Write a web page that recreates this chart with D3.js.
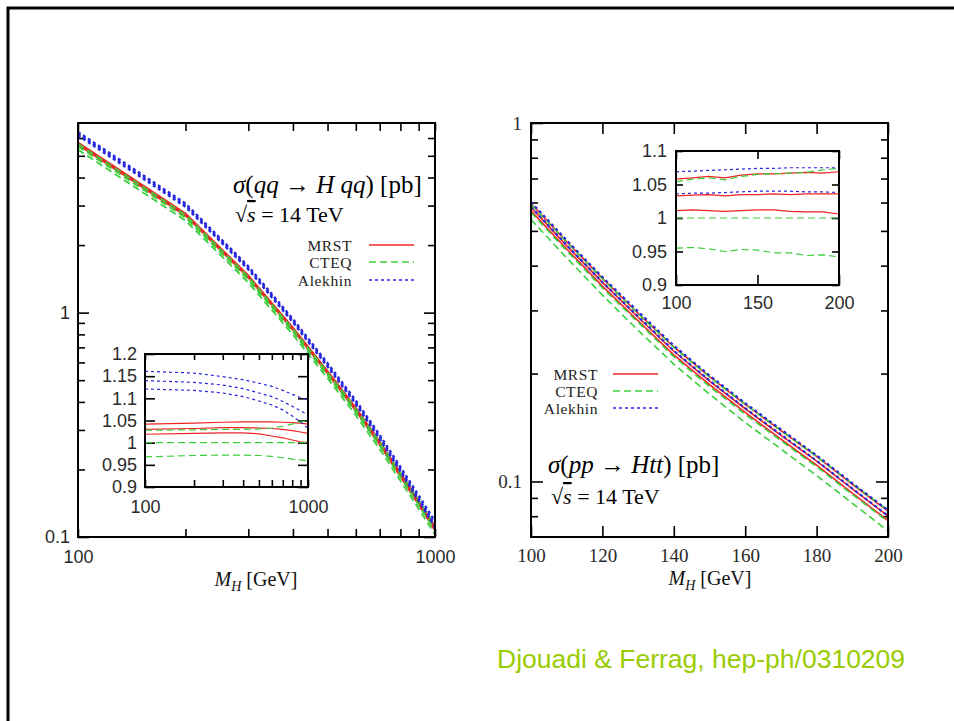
<!DOCTYPE html>
<html>
<head>
<meta charset="utf-8">
<script src="https://cdn.jsdelivr.net/npm/d3@7"></script>
<style>
  html, body { margin: 0; padding: 0; background: #fff; }
  svg { display: block; }
  .tick line { stroke: #000; stroke-width: 1.6; }
</style>
</head>
<body>
<svg id="fig" width="954" height="721"></svg>
<script>
// ---- Left panel: sigma(qq -> Hqq), 14 TeV ----
const massQQ = [100, 200, 300, 400, 500, 600, 700, 800, 900, 1000];
const sigmaQQ = [5.5, 2.65, 1.40, 0.82, 0.525, 0.36, 0.255, 0.185, 0.139, 0.107]; // CTEQ central, pb
// ratios to the CTEQ central value (upper / central / lower member of each set)
const qqMrstHi    = [1.042, 1.044, 1.046, 1.047, 1.047, 1.047, 1.046, 1.045, 1.044, 1.042];
const qqMrstMid   = [1.030, 1.032, 1.034, 1.034, 1.033, 1.032, 1.030, 1.027, 1.024, 1.021];
const qqMrstLo    = [1.019, 1.021, 1.022, 1.022, 1.020, 1.015, 1.011, 1.006, 1.002, 1.000];
const qqCteqHi    = [1.028, 1.029, 1.030, 1.030, 1.031, 1.033, 1.037, 1.042, 1.047, 1.049];
const qqCteqMid   = [1, 1, 1, 1, 1, 1, 1, 1, 1, 1];
const qqCteqLo    = [0.968, 0.971, 0.972, 0.972, 0.971, 0.969, 0.966, 0.963, 0.961, 0.959];
const qqAlekhinHi = [1.161, 1.157, 1.149, 1.142, 1.134, 1.127, 1.118, 1.109, 1.102, 1.096];
const qqAlekhinMid= [1.140, 1.136, 1.130, 1.122, 1.112, 1.104, 1.093, 1.082, 1.072, 1.063];
const qqAlekhinLo = [1.121, 1.118, 1.112, 1.104, 1.094, 1.085, 1.074, 1.060, 1.047, 1.032];

// ---- Right panel: sigma(pp -> Htt), 14 TeV ----
const massTT = [100, 110, 120, 130, 140, 150, 160, 170, 180, 190, 200];
const sigmaTT = [0.563, 0.440, 0.347, 0.278, 0.223, 0.184, 0.154, 0.130, 0.110, 0.0920, 0.0773];
const ttMrstHi    = [1.058, 1.060, 1.062, 1.060, 1.064, 1.066, 1.066, 1.067, 1.068, 1.067, 1.069];
const ttMrstMid   = [1.033, 1.034, 1.035, 1.033, 1.035, 1.035, 1.036, 1.035, 1.036, 1.036, 1.036];
const ttMrstLo    = [1.011, 1.012, 1.011, 1.010, 1.011, 1.012, 1.012, 1.010, 1.009, 1.009, 1.006];
const ttCteqHi    = [1.054, 1.058, 1.060, 1.057, 1.062, 1.065, 1.066, 1.067, 1.068, 1.072, 1.074];
const ttCteqMid   = [1, 1, 1, 1, 1, 1, 1, 1, 1, 1, 1];
const ttCteqLo    = [0.955, 0.956, 0.954, 0.950, 0.953, 0.952, 0.948, 0.948, 0.944, 0.945, 0.942];
const ttAlekhinHi = [1.069, 1.070, 1.071, 1.072, 1.073, 1.074, 1.074, 1.075, 1.075, 1.075, 1.075];
const ttAlekhinLo = [1.036, 1.037, 1.037, 1.038, 1.039, 1.040, 1.040, 1.040, 1.039, 1.039, 1.038];

// ---- tick values and labels ----
const qqMainYLabelTicks = [0.1, 1];
const qqMainYLabels = ["0.1", "1"];
const qqMainYMinor = [0.2, 0.3, 0.4, 0.5, 0.6, 0.7, 0.8, 0.9, 2, 3, 4, 5, 6];
const qqXTicks = [100, 200, 300, 400, 500, 600, 700, 800, 900, 1000];
const qqXLabels = {100: "100", 1000: "1000"};
const qqInsetYTicks = [0.9, 0.95, 1, 1.05, 1.1, 1.15, 1.2];
const qqInsetYLabels = ["0.9", "0.95", "1", "1.05", "1.1", "1.15", "1.2"];
const ttMainYMajor = [0.1];
const ttMainYMinor = [0.08, 0.09, 0.2, 0.3, 0.4, 0.5, 0.6, 0.7, 0.8, 0.9];
const ttMainYLabelTicks = [0.1, 1];
const ttMainYLabels = ["0.1", "1"];
const ttXTicks = [100, 120, 140, 160, 180, 200];
const ttInsetYTicks = [0.9, 0.95, 1, 1.05, 1.1];
const ttInsetYLabels = ["0.9", "0.95", "1", "1.05", "1.1"];
const ttInsetXTicks = [100, 150, 200];

const seriesNames = ["MRST", "CTEQ", "Alekhin"];
const credit = "Djouadi & Ferrag, hep-ph/0310209";

// ---- styling ----
const COL = { MRST: "#f02424", CTEQ: "#3ccf3c", Alekhin: "#2626dc" };
const DASH = { MRST: null, CTEQ: "7,4", Alekhin: "3,3" };
const SANS = "'Liberation Sans', Arial, sans-serif";
const SERIF = "'Liberation Serif', 'Times New Roman', serif";
const TICKCOL = "#2a2a2a";

const svg = d3.select("#fig");

// page frame
svg.append("rect").attr("x", 8).attr("y", 8).attr("width", 1000).attr("height", 800)
  .attr("fill", "none").attr("stroke", "#000").attr("stroke-width", 3);

const qqSets = [
  { name: "MRST", ratios: [qqMrstHi, qqMrstMid, qqMrstLo] },
  { name: "CTEQ", ratios: [qqCteqHi, qqCteqMid, qqCteqLo] },
  { name: "Alekhin", ratios: [qqAlekhinHi, qqAlekhinMid, qqAlekhinLo] }
];
const ttSets = [
  { name: "MRST", ratios: [ttMrstHi, ttMrstMid, ttMrstLo] },
  { name: "CTEQ", ratios: [ttCteqHi, ttCteqMid, ttCteqLo] },
  { name: "Alekhin", ratios: [ttAlekhinHi, ttAlekhinLo] }
];

let clipId = 0;
function frameBox(x, y, w, h) {
  const id = "clip" + (clipId++);
  svg.append("clipPath").attr("id", id).append("rect")
    .attr("x", x).attr("y", y).attr("width", w).attr("height", h);
  return id;
}

function axis(gen, scale, values, len, fmt, pad, fontFam, fontSize, transform) {
  const a = gen(scale).tickValues(values).tickSizeInner(-len).tickSizeOuter(0)
    .tickPadding(pad).tickFormat(fmt || (() => ""));
  const g = svg.append("g").attr("transform", transform).call(a);
  g.select(".domain").remove();
  g.selectAll("text").attr("font-family", fontFam).attr("font-size", fontSize).attr("fill", TICKCOL);
  return g;
}

function drawCurves(sets, xs, base, x, y, clip, width, normalise) {
  const g = svg.append("g").attr("clip-path", `url(#${clip})`);
  const line = d3.line().x(d => x(d[0])).y(d => y(d[1]));
  sets.forEach(s => {
    s.ratios.forEach(r => {
      const pts = xs.map((m, i) => [m, normalise ? r[i] : r[i] * base[i]]);
      g.append("path").attr("d", line(pts)).attr("fill", "none")
        .attr("stroke", COL[s.name]).attr("stroke-width", s.name === "Alekhin" && !normalise ? width + 0.5 : width)
        .attr("stroke-dasharray", DASH[s.name]);
    });
  });
}

function legend(xText, baselines, x0, x1) {
  seriesNames.forEach((n, i) => {
    svg.append("text").attr("x", xText).attr("y", baselines[i]).attr("text-anchor", "end")
      .attr("font-family", SERIF).attr("font-size", 15.5).attr("letter-spacing", 0.6)
      .attr("fill", "#222").text(n);
    svg.append("line").attr("x1", x0).attr("x2", x1)
      .attr("y1", baselines[i] - 6).attr("y2", baselines[i] - 6)
      .attr("stroke", COL[n]).attr("stroke-width", 1.6).attr("stroke-dasharray", DASH[n]);
  });
}

function processLabel(x, y, size, parts) {
  const t = svg.append("text").attr("x", x).attr("y", y).attr("font-family", SERIF)
    .attr("font-size", size).attr("fill", "#000");
  parts.forEach(p => {
    const ts = t.append("tspan").text(p[0]);
    if (p[1]) ts.attr("font-style", "italic");
    if (p[2]) ts.attr("text-decoration", "overline");
  });
  return t;
}

function massLabel(cx, y) {
  const t = svg.append("text").attr("x", cx).attr("y", y).attr("text-anchor", "middle")
    .attr("font-family", SERIF).attr("font-size", 20).attr("fill", "#111");
  t.append("tspan").attr("font-style", "italic").text("M");
  t.append("tspan").attr("font-style", "italic").attr("font-size", 14).attr("dy", 5).text("H");
  t.append("tspan").attr("dy", -5).text(" [GeV]");
}

// ================= LEFT PANEL =================
const L = { x0: 78, x1: 435, y0: 123, y1: 537 };
const xL = d3.scaleLog().domain([100, 1000]).range([L.x0, L.x1]);
const yL = d3.scaleLog().domain([0.1, 7]).range([L.y1, L.y0]);
const clipL = frameBox(L.x0, L.y0, L.x1 - L.x0, L.y1 - L.y0);

axis(d3.axisLeft, yL, qqMainYLabelTicks, 11, d => qqMainYLabels[qqMainYLabelTicks.indexOf(d)], 8, SANS, 18, `translate(${L.x0},0)`);
axis(d3.axisLeft, yL, qqMainYMinor, 7, null, 8, SANS, 18, `translate(${L.x0},0)`);
axis(d3.axisRight, yL, qqMainYLabelTicks, 11, null, 8, SANS, 18, `translate(${L.x1},0)`);
axis(d3.axisRight, yL, qqMainYMinor, 7, null, 8, SANS, 18, `translate(${L.x1},0)`);
axis(d3.axisBottom, xL, qqXTicks, 8, d => qqXLabels[d] || "", 13, SANS, 18, `translate(0,${L.y1})`);
axis(d3.axisTop, xL, qqXTicks, 8, null, 8, SANS, 18, `translate(0,${L.y0})`);

drawCurves(qqSets, massQQ, sigmaQQ, xL, yL, clipL, 1.8, false);
svg.append("rect").attr("x", L.x0).attr("y", L.y0).attr("width", L.x1 - L.x0).attr("height", L.y1 - L.y0)
  .attr("fill", "none").attr("stroke", "#000").attr("stroke-width", 2);

processLabel(233, 193, 25, [["σ", true], ["(", false], ["qq", true], [" → ", false], ["H", true], [" qq", true], [") [pb]", false]]);
processLabel(235, 222, 22, [["√", false], ["s", true, true], [" = 14 TeV", false]]);
legend(352, [251, 268, 286], 369, 414);
massLabel(256, 586);

// left inset
const LI = { x0: 145, x1: 308, y0: 354, y1: 487 };
const xLi = d3.scaleLog().domain([100, 1000]).range([LI.x0, LI.x1]);
const yLi = d3.scaleLinear().domain([0.9, 1.2]).range([LI.y1, LI.y0]);
svg.append("rect").attr("x", LI.x0).attr("y", LI.y0).attr("width", LI.x1 - LI.x0).attr("height", LI.y1 - LI.y0).attr("fill", "#fff");
const clipLI = frameBox(LI.x0, LI.y0, LI.x1 - LI.x0, LI.y1 - LI.y0);
axis(d3.axisLeft, yLi, qqInsetYTicks, 10, d => qqInsetYLabels[qqInsetYTicks.indexOf(d)], 8, SANS, 18, `translate(${LI.x0},0)`);
axis(d3.axisRight, yLi, qqInsetYTicks, 10, null, 8, SANS, 18, `translate(${LI.x1},0)`);
axis(d3.axisBottom, xLi, qqXTicks, 7, d => qqXLabels[d] || "", 13, SANS, 18, `translate(0,${LI.y1})`);
axis(d3.axisTop, xLi, qqXTicks, 6, null, 8, SANS, 18, `translate(0,${LI.y0})`);
drawCurves(qqSets, massQQ, sigmaQQ, xLi, yLi, clipLI, 1.2, true);
svg.append("rect").attr("x", LI.x0).attr("y", LI.y0).attr("width", LI.x1 - LI.x0).attr("height", LI.y1 - LI.y0)
  .attr("fill", "none").attr("stroke", "#000").attr("stroke-width", 2);

// ================= RIGHT PANEL =================
const R = { x0: 531, x1: 888, y0: 123, y1: 537 };
const xR = d3.scaleLinear().domain([100, 200]).range([R.x0, R.x1]);
const yR = d3.scaleLog().domain([0.07, 1]).range([R.y1, R.y0]);
const clipR = frameBox(R.x0, R.y0, R.x1 - R.x0, R.y1 - R.y0);

axis(d3.axisLeft, yR, ttMainYLabelTicks, 12, d => ttMainYLabels[ttMainYLabelTicks.indexOf(d)], 9, SERIF, 19, `translate(${R.x0},0)`);
axis(d3.axisLeft, yR, ttMainYMinor, 7, null, 8, SERIF, 19, `translate(${R.x0},0)`);
axis(d3.axisRight, yR, ttMainYMajor, 12, null, 8, SERIF, 19, `translate(${R.x1},0)`);
axis(d3.axisRight, yR, ttMainYMinor, 7, null, 8, SERIF, 19, `translate(${R.x1},0)`);
axis(d3.axisBottom, xR, ttXTicks, 11, d => String(d), 12, SERIF, 19, `translate(0,${R.y1})`);
axis(d3.axisTop, xR, ttXTicks, 11, null, 8, SERIF, 19, `translate(0,${R.y0})`);

drawCurves(ttSets, massTT, sigmaTT, xR, yR, clipR, 1.6, false);
svg.append("rect").attr("x", R.x0).attr("y", R.y0).attr("width", R.x1 - R.x0).attr("height", R.y1 - R.y0)
  .attr("fill", "none").attr("stroke", "#000").attr("stroke-width", 2);

processLabel(548, 473, 25, [["σ", true], ["(", false], ["pp", true], [" → ", false], ["Htt", true], [") [pb]", false]]);
processLabel(551, 504, 22, [["√", false], ["s", true, true], [" = 14 TeV", false]]);
legend(598, [380, 397, 414], 613, 658);
massLabel(710, 585);

// right inset
const RI = { x0: 676, x1: 839, y0: 151, y1: 285 };
const xRi = d3.scaleLinear().domain([100, 200]).range([RI.x0, RI.x1]);
const yRi = d3.scaleLinear().domain([0.9, 1.1]).range([RI.y1, RI.y0]);
svg.append("rect").attr("x", RI.x0).attr("y", RI.y0).attr("width", RI.x1 - RI.x0).attr("height", RI.y1 - RI.y0).attr("fill", "#fff");
const clipRI = frameBox(RI.x0, RI.y0, RI.x1 - RI.x0, RI.y1 - RI.y0);
axis(d3.axisLeft, yRi, ttInsetYTicks, 7, d => ttInsetYLabels[ttInsetYTicks.indexOf(d)], 9, SANS, 18, `translate(${RI.x0},0)`);
axis(d3.axisRight, yRi, ttInsetYTicks, 7, null, 8, SANS, 18, `translate(${RI.x1},0)`);
axis(d3.axisBottom, xRi, ttInsetXTicks, 10, d => String(d), 11, SANS, 18, `translate(0,${RI.y1})`);
axis(d3.axisTop, xRi, ttInsetXTicks, 8, null, 8, SANS, 18, `translate(0,${RI.y0})`);
drawCurves(ttSets, massTT, sigmaTT, xRi, yRi, clipRI, 1.2, true);
svg.append("rect").attr("x", RI.x0).attr("y", RI.y0).attr("width", RI.x1 - RI.x0).attr("height", RI.y1 - RI.y0)
  .attr("fill", "none").attr("stroke", "#000").attr("stroke-width", 2);

// credit line
svg.append("text").attr("x", 497).attr("y", 668).attr("font-family", SANS).attr("font-size", 26.5)
  .attr("fill", "#99cc00").text(credit);
</script>
</body>
</html>
